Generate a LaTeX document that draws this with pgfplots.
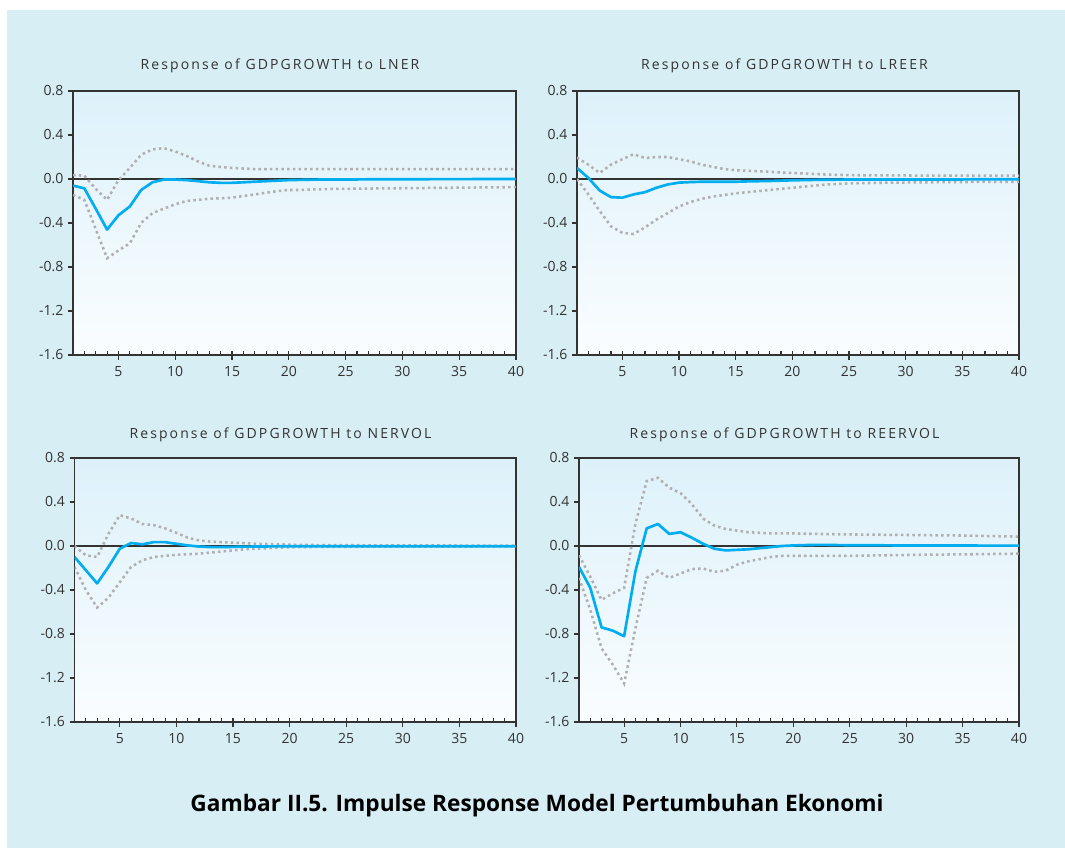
\documentclass[border=0pt]{standalone}
\usepackage{pgfplots}
\pgfplotsset{compat=1.18}
\usepackage{pgfplotstable}
\usepackage{fontspec}
\setmainfont{Open Sans}
\newfontfamily\titlefont[LetterSpace=15]{Open Sans}

\definecolor{bgblue}{HTML}{D8EEF5}
\definecolor{topblue}{HTML}{DDF1FA}
\definecolor{botblue}{HTML}{FAFDFF}
\definecolor{irfblue}{HTML}{00AEEF}
\definecolor{dotgray}{HTML}{B0B0B0}
\definecolor{axgray}{HTML}{333333}

% t  mean  upper  lower
\pgfplotstableread{
t m hi lo
1 -0.06 0.035 -0.145
2 -0.085 0.03 -0.19
3 -0.27 -0.09 -0.455
4 -0.46 -0.19 -0.72
5 -0.33 -0.01 -0.65
6 -0.25 0.10 -0.585
7 -0.10 0.22 -0.40
8 -0.03 0.27 -0.31
9 -0.005 0.28 -0.27
10 -0.005 0.25 -0.23
11 -0.01 0.21 -0.20
12 -0.02 0.16 -0.19
13 -0.03 0.12 -0.18
14 -0.035 0.11 -0.175
15 -0.035 0.10 -0.17
16 -0.03 0.095 -0.155
17 -0.025 0.09 -0.14
18 -0.02 0.09 -0.125
19 -0.015 0.09 -0.11
20 -0.01 0.09 -0.10
21 -0.008 0.09 -0.10
22 -0.006 0.09 -0.095
23 -0.005 0.09 -0.093
24 -0.005 0.09 -0.09
25 -0.004 0.09 -0.09
26 -0.004 0.09 -0.088
27 -0.003 0.09 -0.087
28 -0.003 0.09 -0.086
29 -0.002 0.09 -0.085
30 -0.002 0.09 -0.084
31 -0.002 0.09 -0.083
32 -0.002 0.09 -0.082
33 -0.001 0.09 -0.081
34 -0.001 0.09 -0.08
35 -0.001 0.09 -0.079
36 -0.001 0.09 -0.078
37 0.0 0.09 -0.077
38 0.0 0.09 -0.076
39 0.0 0.09 -0.075
40 0.0 0.09 -0.074
}\tlner

\pgfplotstableread{
t m hi lo
1 0.10 0.195 0.0
2 0.01 0.13 -0.14
3 -0.105 0.055 -0.29
4 -0.165 0.13 -0.43
5 -0.17 0.18 -0.49
6 -0.14 0.225 -0.50
7 -0.12 0.19 -0.44
8 -0.08 0.20 -0.37
9 -0.05 0.20 -0.31
10 -0.033 0.18 -0.25
11 -0.028 0.16 -0.21
12 -0.025 0.13 -0.18
13 -0.025 0.11 -0.16
14 -0.025 0.09 -0.145
15 -0.025 0.08 -0.13
16 -0.022 0.075 -0.12
17 -0.02 0.07 -0.11
18 -0.018 0.065 -0.10
19 -0.015 0.06 -0.09
20 -0.012 0.055 -0.08
21 -0.01 0.05 -0.07
22 -0.008 0.045 -0.06
23 -0.007 0.04 -0.05
24 -0.006 0.037 -0.045
25 -0.005 0.035 -0.04
26 -0.005 0.034 -0.038
27 -0.005 0.033 -0.036
28 -0.005 0.033 -0.034
29 -0.005 0.032 -0.033
30 -0.005 0.032 -0.032
31 -0.004 0.031 -0.031
32 -0.004 0.031 -0.030
33 -0.004 0.031 -0.029
34 -0.004 0.030 -0.028
35 -0.004 0.030 -0.028
36 -0.003 0.030 -0.027
37 -0.003 0.030 -0.027
38 -0.003 0.030 -0.026
39 -0.003 0.030 -0.026
40 -0.003 0.030 -0.025
}\tlreer

\pgfplotstableread{
t m hi lo
1 -0.10 0.0 -0.19
2 -0.22 -0.085 -0.40
3 -0.34 -0.10 -0.56
4 -0.19 0.11 -0.47
5 -0.025 0.28 -0.33
6 0.027 0.25 -0.19
7 0.015 0.20 -0.13
8 0.035 0.19 -0.10
9 0.035 0.16 -0.09
10 0.02 0.12 -0.08
11 0.005 0.075 -0.075
12 -0.005 0.05 -0.07
13 -0.01 0.04 -0.06
14 -0.01 0.035 -0.05
15 -0.008 0.03 -0.04
16 -0.006 0.025 -0.03
17 -0.005 0.02 -0.025
18 -0.004 0.018 -0.02
19 -0.003 0.015 -0.015
20 -0.002 0.012 -0.012
21 -0.002 0.01 -0.01
22 -0.002 0.009 -0.009
23 -0.002 0.008 -0.008
24 -0.002 0.008 -0.008
25 -0.002 0.007 -0.007
26 -0.002 0.007 -0.007
27 -0.002 0.006 -0.006
28 -0.002 0.006 -0.006
29 -0.002 0.006 -0.006
30 -0.002 0.005 -0.006
31 -0.002 0.005 -0.005
32 -0.002 0.005 -0.005
33 -0.002 0.005 -0.005
34 -0.002 0.005 -0.005
35 -0.002 0.004 -0.005
36 -0.002 0.004 -0.005
37 -0.002 0.004 -0.004
38 -0.002 0.004 -0.004
39 -0.002 0.004 -0.004
40 -0.002 0.004 -0.004
}\tnervol

\pgfplotstableread{
t m hi lo
1 -0.19 -0.085 -0.29
2 -0.38 -0.28 -0.58
3 -0.74 -0.49 -0.93
4 -0.77 -0.43 -1.08
5 -0.82 -0.38 -1.25
6 -0.23 0.20 -0.75
7 0.16 0.59 -0.29
8 0.20 0.62 -0.225
9 0.11 0.53 -0.29
10 0.125 0.48 -0.25
11 0.075 0.38 -0.21
12 0.02 0.25 -0.205
13 -0.025 0.185 -0.235
14 -0.04 0.155 -0.225
15 -0.035 0.14 -0.17
16 -0.03 0.125 -0.14
17 -0.02 0.12 -0.12
18 -0.01 0.115 -0.10
19 0.0 0.115 -0.09
20 0.005 0.115 -0.09
21 0.008 0.112 -0.09
22 0.01 0.11 -0.09
23 0.01 0.108 -0.09
24 0.008 0.106 -0.09
25 0.007 0.105 -0.09
26 0.007 0.104 -0.088
27 0.006 0.103 -0.086
28 0.006 0.102 -0.085
29 0.005 0.101 -0.083
30 0.005 0.10 -0.082
31 0.005 0.099 -0.08
32 0.005 0.098 -0.079
33 0.004 0.097 -0.078
34 0.004 0.096 -0.077
35 0.004 0.095 -0.076
36 0.004 0.093 -0.075
37 0.003 0.091 -0.074
38 0.003 0.089 -0.072
39 0.003 0.087 -0.071
40 0.003 0.085 -0.07
}\treervol

\pgfplotsset{
  irf/.style={
    scale only axis,
    height=198pt,
    xmin=1, xmax=40, ymin=-1.6, ymax=0.8,
    xtick={5,10,...,40},
    minor xtick={1,...,40},
    ytick={-1.6,-1.2,-0.8,-0.4,0,0.4,0.8},
    yticklabel style={/pgf/number format/.cd, fixed, fixed zerofill, precision=1},
    /pgf/number format/assume math mode=true,
    xtick pos=bottom, ytick pos=left,
    tick align=outside,
    major tick length=3.75pt,
    minor tick length=3pt,
    minor x tick style={yshift=3pt},
    tick style={axgray, line width=0.8pt},
    axis line style={axgray, line width=1.1pt},
    ticklabel style={font=\fontsize{10.5pt}{12pt}\selectfont, text=axgray},
    xticklabel style={yshift=-1pt},
    axis background/.style={shade, top color=topblue, bottom color=botblue},
  },
  mline/.style={irfblue, line width=2pt, line join=round},
  band/.style={dotgray, line width=1.9pt, dash pattern=on 1.9pt off 2.4pt},
  zline/.style={axgray, line width=0.8pt},
}

\newcommand{\irfplots}[1]{%
  \addplot[zline] coordinates {(1,0) (40,0)};
  \addplot[band] table[x=t, y=hi] {#1};
  \addplot[band] table[x=t, y=lo] {#1};
  \addplot[mline] table[x=t, y=m] {#1};
}

\begin{document}
\begin{tikzpicture}
\fill[white] (0,0) rectangle (798.75pt,636pt);
\fill[bgblue] (5.25pt,0) rectangle (798.75pt,628.5pt);

\begin{axis}[irf, at={(54.75pt,369.75pt)}, anchor=south west, width=332.25pt]
\irfplots{\tlner}
\end{axis}
\begin{axis}[irf, at={(432.75pt,369.75pt)}, anchor=south west, width=331.5pt]
\irfplots{\tlreer}
\end{axis}
\begin{axis}[irf, at={(55.875pt,94.5pt)}, anchor=south west, width=331.125pt]
\irfplots{\tnervol}
\end{axis}
\begin{axis}[irf, at={(434.25pt,94.5pt)}, anchor=south west, width=330pt]
\irfplots{\treervol}
\end{axis}

\node[anchor=base, text=axgray, font=\titlefont\fontsize{10.5pt}{12pt}\selectfont] at (210pt,583.5pt) {Response of GDPGROWTH to LNER};
\node[anchor=base, text=axgray, font=\titlefont\fontsize{10.5pt}{12pt}\selectfont] at (588.4pt,583.5pt) {Response of GDPGROWTH to LREER};
\node[anchor=base, text=axgray, font=\titlefont\fontsize{10.5pt}{12pt}\selectfont] at (210.4pt,306.75pt) {Response of GDPGROWTH to NERVOL};
\node[anchor=base, text=axgray, font=\titlefont\fontsize{10.5pt}{12pt}\selectfont] at (588.4pt,306.75pt) {Response of GDPGROWTH to REERVOL};

\node[anchor=base, font=\bfseries\fontsize{17pt}{20pt}\selectfont] at (402.75pt,27.4pt) {Gambar II.5. Impulse Response Model Pertumbuhan Ekonomi};
\end{tikzpicture}
\end{document}
